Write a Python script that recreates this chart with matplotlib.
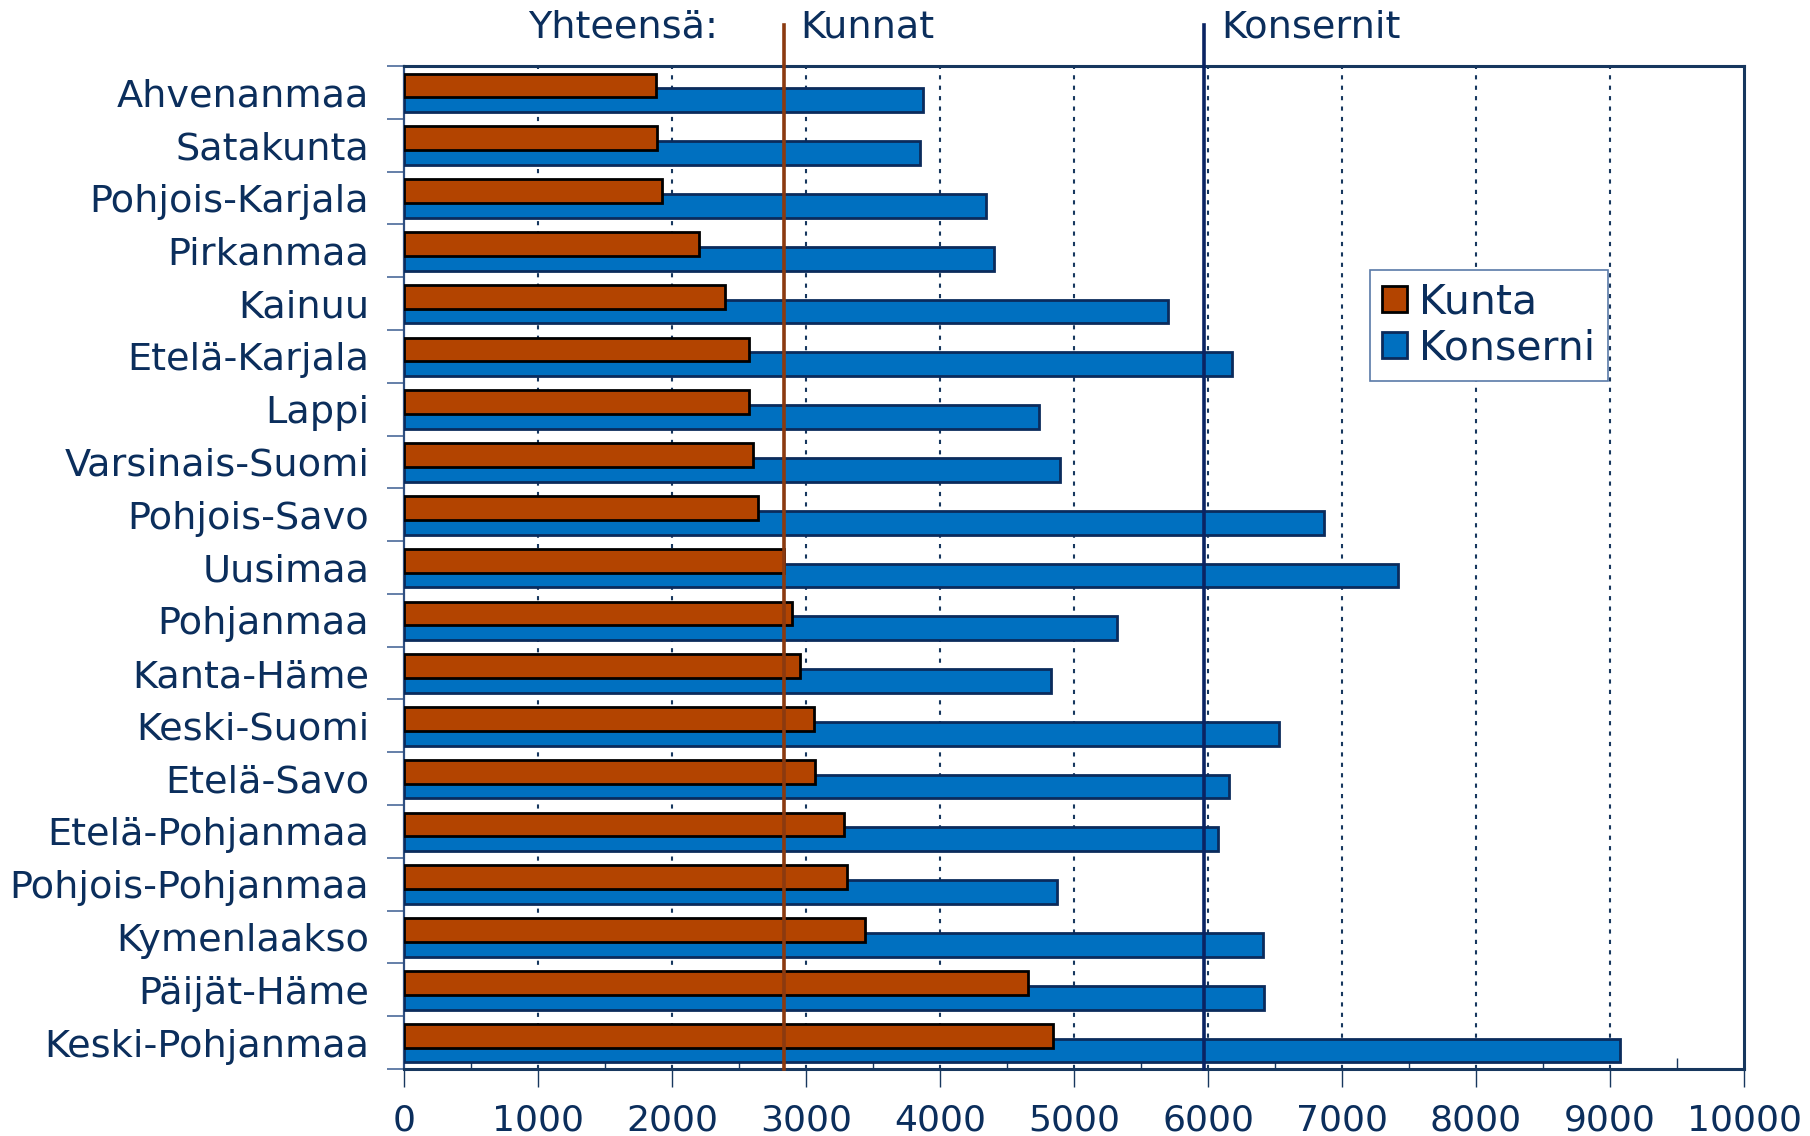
import matplotlib
matplotlib.use("Agg")
import matplotlib.pyplot as plt
from matplotlib.patches import Patch
import numpy as np

regions = ["Ahvenanmaa", "Satakunta", "Pohjois-Karjala", "Pirkanmaa", "Kainuu",
           "Etelä-Karjala", "Lappi", "Varsinais-Suomi", "Pohjois-Savo", "Uusimaa",
           "Pohjanmaa", "Kanta-Häme", "Keski-Suomi", "Etelä-Savo", "Etelä-Pohjanmaa",
           "Pohjois-Pohjanmaa", "Kymenlaakso", "Päijät-Häme", "Keski-Pohjanmaa"]
kunta = [1878, 1886, 1929, 2205, 2394, 2575, 2575, 2601, 2644, 2834,
         2894, 2954, 3058, 3066, 3282, 3307, 3437, 4660, 4840]
konserni = [3876, 3850, 4341, 4401, 5702, 6176, 4737, 4892, 6865, 7416,
            5323, 4832, 6529, 6158, 6072, 4875, 6408, 6417, 9078]
total_kunnat = 2834
total_konsernit = 5969
xticks = [0, 1000, 2000, 3000, 4000, 5000, 6000, 7000, 8000, 9000, 10000]

TXT = "#0B2E5C"
NAVY = "#17375E"
C_KUNTA = "#B34400"
C_KONS = "#0070C0"

plt.rcParams['font.family'] = ['DejaVu Sans']
fig = plt.figure(figsize=(18.10, 11.36), dpi=100)
ax = fig.add_axes([404/1810, 1-1069/1136, (1744-404)/1810, (1069-66)/1136])

y = np.arange(len(regions))
ax.barh(y + 0.15, konserni, height=0.45, color=C_KONS, edgecolor="#0B2B5C", linewidth=2, zorder=3)
ax.barh(y - 0.13, kunta, height=0.45, color=C_KUNTA, edgecolor="black", linewidth=2, zorder=4)

ax.set_xlim(0, 10000)
ax.set_ylim(len(regions) - 0.5, -0.5)

ax.set_xticks(xticks)
ax.set_xticklabels([str(v) for v in xticks])
ax.set_xticks(np.arange(500, 10000, 1000), minor=True)
ax.tick_params(axis='x', which='major', direction='out', length=13, width=1, color=NAVY,
               labelsize=26, labelcolor=TXT, pad=12)
ax.tick_params(axis='x', which='minor', direction='in', length=8, width=1, color=NAVY)

ax.set_yticks(y)
ax.set_yticklabels(regions)
ax.set_yticks(np.arange(-0.5, len(regions), 1.0), minor=True)
ax.tick_params(axis='y', which='major', length=0, labelsize=27.5, labelcolor=TXT, pad=25)
ax.tick_params(axis='y', which='minor', direction='out', length=12, width=1.2, color="#4A6A9A")

for xv in xticks[1:-1]:
    ax.axvline(xv, color=NAVY, linestyle=(0, (2, 3)), linewidth=1.5, zorder=1)

for s in ax.spines.values():
    s.set_color(NAVY)
    s.set_linewidth(2.2)
ax.spines['left'].set_color("#2F4F80")
ax.spines['left'].set_linewidth(1.6)

top = (1069 - 25) / (1069 - 66)
ax.axvline(total_kunnat, ymin=0, ymax=top, color="#8B3A10", linewidth=2.6, clip_on=False, zorder=6)
ax.axvline(total_konsernit, ymin=0, ymax=top, color="#0A2463", linewidth=2.6, clip_on=False, zorder=6)

fig.text(623/1810, 1-28/1136, "Yhteensä:", ha='center', va='center', fontsize=27.5, color=TXT)
fig.text(800/1810, 1-28/1136, "Kunnat", ha='left', va='center', fontsize=27.5, color=TXT)
fig.text(1221/1810, 1-28/1136, "Konsernit", ha='left', va='center', fontsize=27.5, color=TXT)

handles = [Patch(facecolor=C_KUNTA, edgecolor="black", linewidth=2, label="Kunta"),
           Patch(facecolor=C_KONS, edgecolor="#0B2B5C", linewidth=2, label="Konserni")]
leg = ax.legend(handles=handles, loc='upper left',
                bbox_to_anchor=((1370-404)/1340, 1-(270-66)/1003), fontsize=29.5,
                frameon=True, fancybox=False, edgecolor="#5A7AA8", framealpha=1,
                handlelength=0.6, handleheight=0.6, handletextpad=0.3,
                borderpad=0.3, labelspacing=0.15, borderaxespad=0)
for t in leg.get_texts():
    t.set_color(TXT)
leg.get_frame().set_linewidth(1.2)
leg.set_zorder(10)

fig.savefig("out.png", dpi=100)
